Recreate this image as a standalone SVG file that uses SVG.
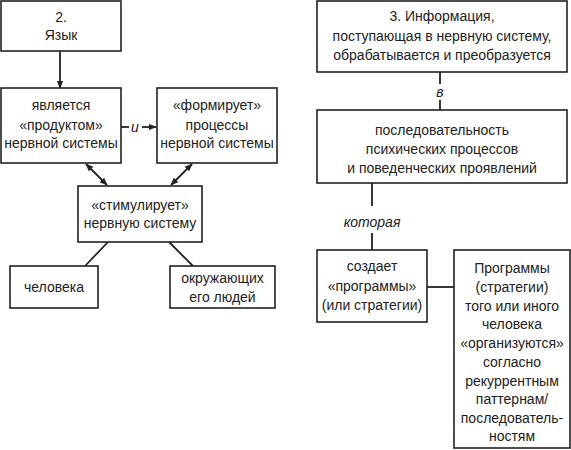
<svg xmlns="http://www.w3.org/2000/svg" width="571" height="450" viewBox="0 0 571 450">
<style>
.box{fill:#fff;stroke:#222;stroke-width:1.6}
.t{font-family:"Liberation Sans",Arial,sans-serif;font-size:14px;fill:#222;text-anchor:middle}
.i{font-style:italic}
.c{stroke:#222;stroke-width:1.8;fill:none}
</style>
<defs>
<marker id="ah" viewBox="0 0 10 10" refX="9" refY="5" markerWidth="8" markerHeight="8" markerUnits="userSpaceOnUse" orient="auto-start-reverse">
<path d="M0,1 L10,5 L0,9 z" fill="#222"/>
</marker>
</defs>
<rect width="571" height="450" fill="#fff"/>
<g id="connectors">
<line class="c" x1="60" y1="51" x2="60" y2="88" marker-end="url(#ah)"/>
<line class="c" x1="121" y1="127" x2="129" y2="127"/>
<line class="c" x1="142" y1="127" x2="156" y2="127" marker-end="url(#ah)"/>
<line class="c" x1="86" y1="164" x2="107" y2="185" marker-start="url(#ah)" marker-end="url(#ah)"/>
<line class="c" x1="192" y1="164" x2="171" y2="185" marker-start="url(#ah)" marker-end="url(#ah)"/>
<line class="c" x1="108" y1="242" x2="85" y2="266"/>
<line class="c" x1="169" y1="242" x2="193" y2="266"/>
<line class="c" x1="440" y1="72" x2="440" y2="84"/>
<line class="c" x1="440" y1="100" x2="440" y2="110"/>
<line class="c" x1="372" y1="183" x2="372" y2="206"/>
<line class="c" x1="372" y1="233" x2="372" y2="250"/>
<line class="c" x1="427" y1="287" x2="454" y2="287" stroke-width="2.2"/>
<text class="t i" x="135" y="132">и</text>
<text class="t i" x="440" y="97" font-size="13">в</text>
<text class="t i" x="372" y="227">которая</text>
</g>
<g id="n-yazyk">
<rect class="box" x="1" y="1" width="120" height="50"/>
<text class="t" x="61" y="22">2.</text>
<text class="t" x="61" y="40">Язык</text>
</g>
<g id="n-product">
<rect class="box" x="1" y="88" width="120" height="75"/>
<text class="t" x="61" y="110">является</text>
<text class="t" x="61" y="130">«продуктом»</text>
<text class="t" x="61" y="148">нервной системы</text>
</g>
<g id="n-form">
<rect class="box" x="157" y="88" width="120" height="75"/>
<text class="t" x="217" y="110">«формирует»</text>
<text class="t" x="217" y="130">процессы</text>
<text class="t" x="217" y="148">нервной системы</text>
</g>
<g id="n-stim">
<rect class="box" x="78" y="186" width="124" height="56"/>
<text class="t" x="140" y="210">«стимулирует»</text>
<text class="t" x="140" y="228">нервную систему</text>
</g>
<g id="n-chel">
<rect class="box" x="10" y="266" width="88" height="42"/>
<text class="t" x="54" y="292">человека</text>
</g>
<g id="n-okr">
<rect class="box" x="170" y="266" width="105" height="42"/>
<text class="t" x="222.5" y="283">окружающих</text>
<text class="t" x="222.5" y="302">его людей</text>
</g>
<g id="n-info">
<rect class="box" x="317" y="1" width="250" height="71"/>
<text class="t" x="442" y="21">3. Информация,</text>
<text class="t" x="442" y="41">поступающая в нервную систему,</text>
<text class="t" x="442" y="60">обрабатывается и преобразуется</text>
</g>
<g id="n-seq">
<rect class="box" x="317" y="110" width="250" height="73"/>
<text class="t" x="442" y="135">последовательность</text>
<text class="t" x="442" y="154">психических процессов</text>
<text class="t" x="442" y="173">и поведенческих проявлений</text>
</g>
<g id="n-creates">
<rect class="box" x="317" y="250" width="110" height="72"/>
<text class="t" x="372" y="271">создает</text>
<text class="t" x="372" y="291">«программы»</text>
<text class="t" x="372" y="310">(или стратегии)</text>
</g>
<g id="n-programs">
<rect class="box" x="454" y="250" width="116" height="198"/>
<text class="t" x="512" y="273">Программы</text>
<text class="t" x="512" y="292">(стратегии)</text>
<text class="t" x="512" y="311">того или иного</text>
<text class="t" x="512" y="329">человека</text>
<text class="t" x="512" y="348">«организуются»</text>
<text class="t" x="512" y="367">согласно</text>
<text class="t" x="512" y="386">рекуррентным</text>
<text class="t" x="512" y="404">паттернам/</text>
<text class="t" x="512" y="423">последователь-</text>
<text class="t" x="512" y="441">ностям</text>
</g>
</svg>
